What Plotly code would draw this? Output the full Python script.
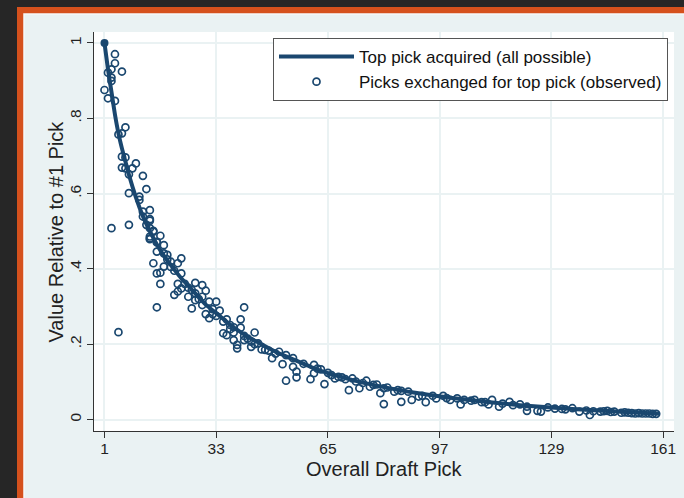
import plotly.graph_objects as go

# ---- data ----
curve_pick = [1, 2, 3, 4, 5, 6, 7, 8, 10, 12, 14, 16, 18, 20, 23, 26, 30, 34, 38, 42,
              46, 50, 55, 60, 65, 70, 75, 80, 90, 100, 110, 120, 130, 140, 150, 160]
curve_value = [1.0, 0.93, 0.87, 0.81, 0.76, 0.72, 0.685, 0.65, 0.59, 0.54, 0.50, 0.465,
               0.435, 0.41, 0.375, 0.345, 0.305, 0.275, 0.245, 0.22, 0.20, 0.18, 0.16,
               0.14, 0.123, 0.11, 0.098, 0.088, 0.071, 0.058, 0.047, 0.038, 0.031,
               0.025, 0.02, 0.015]

obs_pick = [4, 4, 3, 6, 2, 3, 3, 1, 2, 4, 7, 6, 5, 6, 7, 10, 6, 7, 9, 8, 12, 13, 8, 11, 11,
            14, 12, 12, 14, 13, 8, 3, 14, 15, 14, 17, 16, 14, 5,
            14, 15, 14, 16, 18, 16, 18, 19, 23, 22, 15, 20, 18, 16, 17, 23, 17, 22, 27, 29,
            23, 26, 30, 21, 22, 27, 29, 25, 27, 31, 33, 16, 26, 29, 32, 34, 30, 41, 31, 36,
            40, 37, 40, 35, 36, 44, 38, 39, 41, 43, 45,
            19, 20, 21, 24, 25, 28, 32, 33, 35, 37, 42, 44, 47,
            41, 38, 38, 39, 43, 46, 48, 51, 53, 49, 52, 55, 55, 53, 56, 56, 61, 60, 63, 65,
            64, 61, 67, 70, 72, 71, 74, 76, 77, 79, 81, 80, 81, 84, 86, 88, 86, 89, 91,
            50, 58, 62, 66, 68, 69, 73, 75, 78, 82, 85,
            92, 93, 95, 98, 96, 100, 102, 104, 103, 107, 109, 111, 112, 114, 117, 120, 122,
            122, 125, 99, 106, 110, 115, 118,
            126, 128, 135, 137, 140, 143, 145, 147, 149, 151, 153, 155, 157, 159,
            130, 132, 133, 139, 141, 144, 146, 150, 152, 154, 156, 158]
obs_value = [0.970, 0.946, 0.930, 0.924, 0.921, 0.908, 0.899, 0.875, 0.853, 0.846, 0.776,
             0.760, 0.757, 0.698, 0.696, 0.680, 0.669, 0.667, 0.667, 0.651, 0.647, 0.612,
             0.601, 0.592, 0.583, 0.556, 0.552, 0.539, 0.532, 0.517, 0.517, 0.508, 0.508,
             0.501, 0.486, 0.488, 0.472, 0.479, 0.232,
             0.528, 0.499, 0.481, 0.470, 0.463, 0.446, 0.441, 0.437, 0.428, 0.415, 0.415,
             0.419, 0.406, 0.388, 0.390, 0.388, 0.360, 0.360, 0.363, 0.357, 0.348, 0.344,
             0.342, 0.331, 0.340, 0.335, 0.326, 0.326, 0.317, 0.313, 0.313, 0.298, 0.295,
             0.304, 0.293, 0.289, 0.280, 0.298, 0.269, 0.266, 0.266, 0.251, 0.244, 0.229,
             0.224, 0.231, 0.211, 0.198, 0.211, 0.207, 0.202,
             0.425, 0.405, 0.395, 0.36, 0.35, 0.32, 0.28, 0.275, 0.26, 0.24, 0.215, 0.20,
             0.185,
             0.222, 0.245, 0.231, 0.189, 0.193, 0.186, 0.183, 0.180, 0.171, 0.163, 0.147,
             0.163, 0.140, 0.103, 0.127, 0.112, 0.145, 0.107, 0.133, 0.124, 0.094, 0.123,
             0.109, 0.107, 0.109, 0.078, 0.083, 0.103, 0.087, 0.093, 0.083, 0.070, 0.041,
             0.074, 0.076, 0.074, 0.047, 0.052, 0.061,
             0.175, 0.148, 0.135, 0.118, 0.113, 0.112, 0.101, 0.097, 0.092, 0.085, 0.078,
             0.063, 0.046, 0.063, 0.063, 0.056, 0.052, 0.056, 0.052, 0.040, 0.052, 0.046,
             0.040, 0.052, 0.034, 0.047, 0.040, 0.034, 0.023, 0.023, 0.057, 0.050, 0.046,
             0.042, 0.038,
             0.021, 0.032, 0.030, 0.021, 0.012, 0.021, 0.023, 0.021, 0.018, 0.018, 0.016,
             0.016, 0.016, 0.015,
             0.029, 0.028, 0.027, 0.024, 0.022, 0.022, 0.020, 0.019, 0.017, 0.017, 0.016,
             0.015]

x_ticks = [1, 33, 65, 97, 129, 161]
y_ticks = [0, 0.2, 0.4, 0.6, 0.8, 1]
y_tick_text = ["0", ".2", ".4", ".6", ".8", "1"]

NAVY = "#1A476F"
FONT = "Liberation Sans, Arial, sans-serif"
TXT = "#222222"

W, H = 684, 498
ML, MR, MT, MB = 94, 10, 32, 67
PW, PH = W - ML - MR, H - MT - MB


def px_x(p):
    return (p - ML) / PW


def px_y(p):
    return 1 - (p - MT) / PH


fig = go.Figure()
fig.add_trace(go.Scatter(
    x=curve_pick, y=curve_value, mode="lines", name="Top pick acquired (all possible)",
    line=dict(color=NAVY, width=4, shape="spline", smoothing=0.6)))
fig.add_trace(go.Scatter(
    x=curve_pick[:1], y=curve_value[:1], mode="markers", showlegend=False,
    marker=dict(color=NAVY, size=8), hoverinfo="skip"))
fig.add_trace(go.Scatter(
    x=obs_pick, y=obs_value, mode="markers", name="Picks exchanged for top pick (observed)",
    marker=dict(symbol="circle-open", size=7, color=NAVY, line=dict(width=1.7, color=NAVY))))

shapes = [
    dict(type="rect", xref="paper", yref="paper", layer="below",
         x0=px_x(17), x1=px_x(720), y0=px_y(7), y1=px_y(520),
         fillcolor="#D5511D", line=dict(width=0)),
    dict(type="rect", xref="paper", yref="paper", layer="below",
         x0=px_x(24), x1=px_x(720), y0=px_y(14), y1=px_y(520),
         fillcolor="#EAF2F3", line=dict(color="#F6F9FA", width=1.5)),
    dict(type="rect", xref="paper", yref="paper", layer="below",
         x0=0, x1=1, y0=0, y1=1, fillcolor="white", line=dict(width=0)),
]

annotations = [
    dict(text="Value Relative to #1 Pick", xref="paper", yref="paper",
         x=px_x(55), y=0.5, xanchor="center", yanchor="middle", textangle=-90,
         showarrow=False, font=dict(size=20, family=FONT, color=TXT)),
    dict(text="Overall Draft Pick", xref="paper", yref="paper",
         x=0.5, y=px_y(469), xanchor="center", yanchor="middle",
         showarrow=False, font=dict(size=20, family=FONT, color=TXT)),
]

fig.update_layout(
    width=W, height=H,
    margin=dict(l=ML, r=MR, t=MT, b=MB, pad=0),
    paper_bgcolor="#262626",
    plot_bgcolor="rgba(0,0,0,0)",
    font=dict(family=FONT, color=TXT),
    shapes=shapes,
    annotations=annotations,
    showlegend=True,
    legend=dict(
        x=px_x(668), y=px_y(38), xanchor="right", yanchor="top",
        bgcolor="white", bordercolor="#555555", borderwidth=1,
        font=dict(size=17, family=FONT, color="#111111"),
        itemwidth=75,
    ),
    xaxis=dict(
        range=[-2.0, 164.1], tickmode="array", tickvals=x_ticks, automargin=False,
        ticks="outside", ticklen=6, tickcolor="#333333", tickwidth=1,
        ticklabelstandoff=-3,
        showline=True, linecolor="#333333", linewidth=1,
        showgrid=True, gridcolor="#EAF2F3", gridwidth=1.5, zeroline=False,
        tickfont=dict(size=15.5, family=FONT, color=TXT),
    ),
    yaxis=dict(
        range=[-0.0305, 1.029], tickmode="array", tickvals=y_ticks, ticktext=y_tick_text,
        tickangle=-90, automargin=False,
        ticks="outside", ticklen=6, tickcolor="#333333", tickwidth=1,
        showline=True, linecolor="#333333", linewidth=1,
        showgrid=True, gridcolor="#EAF2F3", gridwidth=1.5, zeroline=False,
        tickfont=dict(size=15.5, family=FONT, color=TXT),
    ),
)

fig.write_html(
    "out.html",
    config={"displayModeBar": False},
    post_script="document.body.style.margin='0';document.body.style.overflow='hidden';"
                "document.body.style.background='#262626';",
)
